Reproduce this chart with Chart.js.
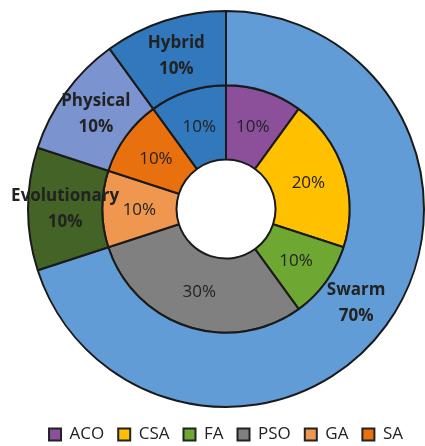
<!DOCTYPE html>
<html>
<head>
<meta charset="utf-8">
<script src="https://cdn.jsdelivr.net/npm/chart.js@4"></script>
<style>
  html, body { margin: 0; padding: 0; background: #fff; }
  #wrap { width: 425px; height: 446px; position: relative; }
</style>
</head>
<body>
<div id="wrap"><canvas id="chart"></canvas></div>
<script>
// outer ring: algorithm families
const outerLabels = ['Swarm', 'Evolutionary', 'Physical', 'Hybrid'];
const outerValues = [70, 10, 10, 10];
const outerColors = ['#619CD6', '#446326', '#7B93CE', '#3278BD'];

// inner ring: individual algorithms
const innerLabels = ['ACO', 'CSA', 'FA', 'PSO', 'GA', 'SA', 'Hybrid'];
const innerValues = [10, 20, 10, 30, 10, 10, 10];
const innerColors = ['#8C509B', '#FFC000', '#6FA733', '#808080', '#F0974F', '#E8700F', '#3278BD'];

const textColor = '#222';
const fontFamily = "'Open Sans', sans-serif";

// draws the percentage labels at each arc's centre
const sliceLabels = {
    id: 'sliceLabels',
    afterDatasetsDraw(chart) {
        const ctx = chart.ctx;
        ctx.save();
        ctx.fillStyle = textColor;
        ctx.textAlign = 'center';
        ctx.textBaseline = 'middle';
        chart.data.datasets.forEach((ds, di) => {
            const meta = chart.getDatasetMeta(di);
            meta.data.forEach((arc, i) => {
                const p = arc.tooltipPosition();
                const pct = ds.data[i] + '%';
                if (di === 0) {
                    ctx.font = 'bold 17px ' + fontFamily;
                    ctx.fillText(outerLabels[i], p.x, p.y - 13);
                    ctx.fillText(pct, p.x, p.y + 13);
                } else {
                    ctx.font = '17px ' + fontFamily;
                    ctx.fillText(pct, p.x, p.y + 1);
                }
            });
        });
        ctx.restore();
    }
};

new Chart(document.getElementById('chart'), {
    type: 'doughnut',
    data: {
        labels: outerLabels,
        datasets: [
            {
                label: 'Family',
                data: outerValues,
                backgroundColor: outerColors,
                borderColor: '#1a1a1a',
                borderWidth: 2
            },
            {
                label: 'Algorithm',
                data: innerValues,
                backgroundColor: innerColors,
                borderColor: '#1a1a1a',
                borderWidth: 2
            }
        ]
    },
    options: {
        responsive: true,
        maintainAspectRatio: false,
        animation: false,
        cutout: '25%',
        layout: {
            padding: { left: 27, right: 0, top: 6, bottom: -7 }
        },
        plugins: {
            tooltip: { enabled: false },
            legend: {
                position: 'bottom',
                labels: {
                    color: textColor,
                    font: { family: fontFamily, size: 17 },
                    boxWidth: 12,
                    boxHeight: 12,
                    padding: 14,
                    generateLabels(chart) {
                        const ds = chart.data.datasets[1];
                        return innerLabels
                            .map((name, i) => ({
                                text: name,
                                fillStyle: ds.backgroundColor[i],
                                strokeStyle: '#222',
                                lineWidth: 2,
                                fontColor: textColor,
                                hidden: false,
                                index: i
                            }))
                            .filter(item => item.text !== 'Hybrid');
                    }
                }
            }
        }
    },
    plugins: [sliceLabels]
});
</script>
</body>
</html>
